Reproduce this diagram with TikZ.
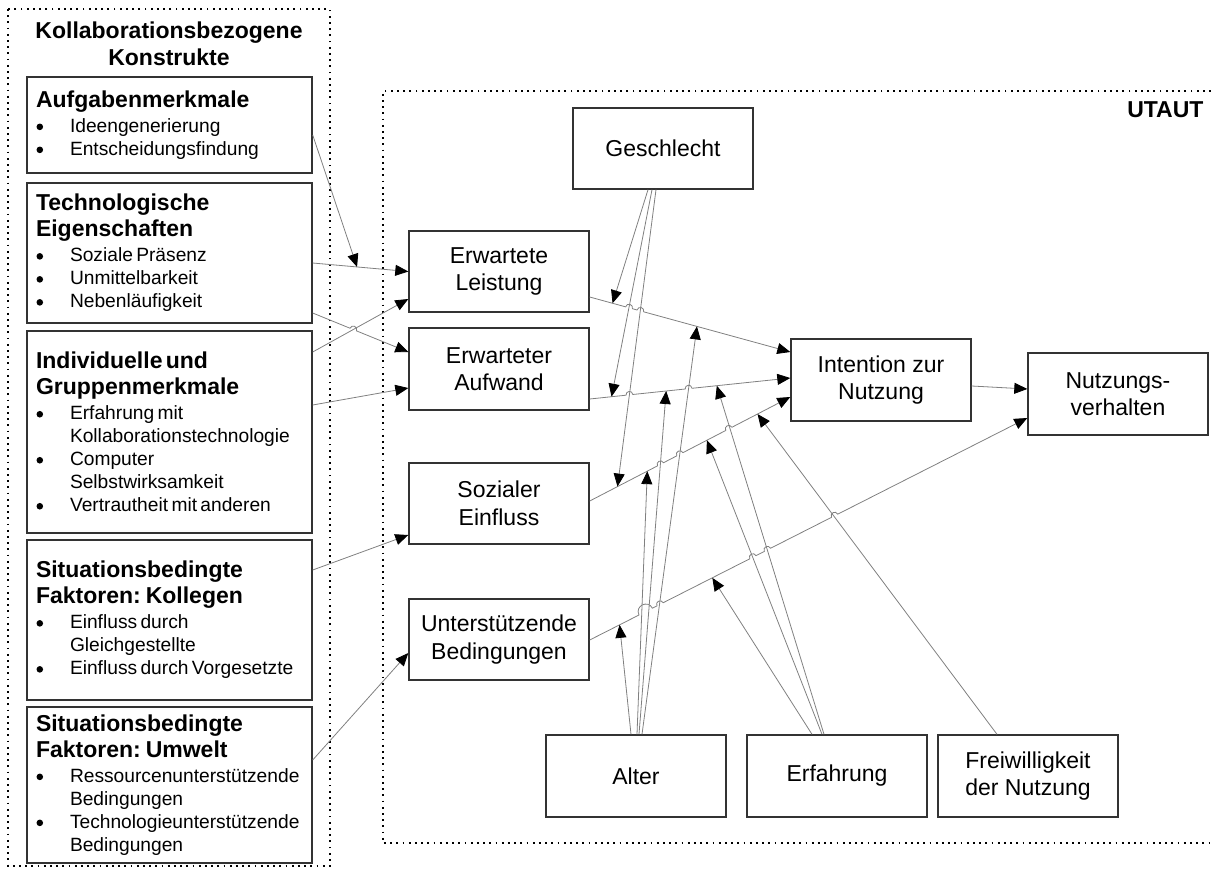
\documentclass[tikz,border=0pt]{standalone}
\usepackage{fontspec}
\setmainfont{Liberation Sans}
\usetikzlibrary{arrows.meta,calc}
\setlength{\parindent}{0pt}

% fonts and list lines of the construct boxes
\newcommand\headfont{\fontsize{23}{26}\selectfont\bfseries}
\newcommand\itemfont{\fontsize{19.2}{23}\selectfont}
\newcommand\bigdot{\tikz[baseline=-5.5pt]\fill[black] (0pt,0pt) circle[radius=3.3pt];}
\newcommand\bitem[1]{\makebox[34pt][l]{\hspace{0.5pt}\bigdot}#1}
\newcommand\bcont[1]{\hspace*{34pt}#1}

\begin{document}
\begin{tikzpicture}[x=1pt,y=-1pt,
  box/.style={draw=black!80, line width=1.4pt, rectangle, inner sep=0pt},
  utbox/.style={box, minimum width=180pt, minimum height=81pt, align=center,
                font=\fontsize{23}{27.5}\selectfont},
  leftbox/.style={box, text width=267pt, inner xsep=9pt, inner ysep=0pt, align=left},
  conn/.style={draw=black!50, line width=0.8pt},
  arr/.style={conn, -{Triangle[length=13pt,width=11pt,color=black]}},
  hopstep/.style={bend left=90, looseness=1.7},
  dotframe/.style={draw=black, line width=1.8pt, dash pattern=on 1.8pt off 4.4pt}
]
\useasboundingbox (0,0) rectangle (1211,871);

% ---------- collaboration constructs ----------
\draw[dotframe] (8,9) rectangle (330,866);
\node[align=center, font=\fontsize{23}{27.5}\selectfont\bfseries] (title) at (169,44)
  {Kollaborationsbezogene\\Konstrukte};

\node[leftbox, minimum height=96pt] (b1) at (169.5,125)
  {{\headfont Aufgabenmerkmale\par}\vspace{2pt}%
   {\itemfont\bitem{Ideengenerierung}\par\bitem{Entscheidungsfindung}\par}};
\node[leftbox, minimum height=140pt] (b2) at (169.5,253)
  {{\headfont Technologische\par Eigenschaften\par}\vspace{2pt}%
   {\itemfont\bitem{Soziale Präsenz}\par\bitem{Unmittelbarkeit}\par\bitem{Nebenläufigkeit}\par}};
\node[leftbox, minimum height=202pt] (b3) at (169.5,432)
  {{\headfont Individuelle und\par Gruppenmerkmale\par}\vspace{2pt}%
   {\itemfont\bitem{Erfahrung mit}\par\bcont{Kollaborationstechnologie}\par
    \bitem{Computer}\par\bcont{Selbstwirksamkeit}\par\bitem{Vertrautheit mit anderen}\par}};
\node[leftbox, minimum height=160pt] (b4) at (169.5,620)
  {{\headfont Situationsbedingte\par Faktoren: Kollegen\par}\vspace{2pt}%
   {\itemfont\bitem{Einfluss durch}\par\bcont{Gleichgestellte}\par\bitem{Einfluss durch Vorgesetzte}\par}};
\node[leftbox, minimum height=156pt] (b5) at (169.5,785)
  {{\headfont Situationsbedingte\par Faktoren: Umwelt\par}\vspace{2pt}%
   {\itemfont\bitem{Ressourcenunterstützende}\par\bcont{Bedingungen}\par
    \bitem{Technologieunterstützende}\par\bcont{Bedingungen}\par}};

% ---------- UTAUT ----------
\draw[dotframe] (1211,91) -- (383,91) -- (383,843) -- (1211,843);
\node[anchor=base east, font=\fontsize{23}{27}\selectfont\bfseries] (ut) at (1207,117) {UTAUT};

\node[utbox] (G)  at (663,148.5) {Geschlecht};
\node[utbox] (EL) at (499,271.5) {Erwartete\\Leistung};
\node[utbox, minimum height=82pt] (EA) at (499,369) {Erwarteter\\Aufwand};
\node[utbox] (SE) at (499,503.5) {Sozialer\\Einfluss};
\node[utbox] (UB) at (499,639.5) {Unterstützende\\Bedingungen};
\node[utbox, minimum height=82pt] (IN) at (881,380) {Intention zur\\Nutzung};
\node[utbox, minimum height=82pt] (NV) at (1118,394) {Nutzungs-\\verhalten};
\node[utbox, minimum height=82pt] (AL) at (636,776) {Alter};
\node[utbox, minimum height=82pt] (ER) at (837,776) {Erfahrung};
\node[utbox, minimum height=82pt] (FW) at (1028,776) {Freiwilligkeit\\der Nutzung};

% end points of the main paths
\coordinate (m1s) at ($(EL.east)+(0,25.5)$);
\coordinate (m1e) at ($(IN.west)+(0,-28)$);
\coordinate (m2s) at ($(EA.east)+(0,30)$);
\coordinate (m2e) at ($(IN.west)+(0,-2)$);
\coordinate (m3s) at ($(SE.east)+(0,-2.5)$);
\coordinate (m3e) at ($(IN.west)+(0,17)$);
\coordinate (m4s) at ($(UB.east)+(0,0.5)$);
\coordinate (m4e) at ($(NV.west)+(0,24)$);

% moderator targets and line jumps along the main paths
\path (m1s) -- (m1e)
  coordinate[pos=0.1139] (g1t) coordinate[pos=0.5347] (a4t)
  coordinate[pos=0.179] (m1h1a) coordinate[pos=0.213] (m1h1b)
  coordinate[pos=0.236] (m1h2a) coordinate[pos=0.269] (m1h2b);
\path (m2s) -- (m2e)
  coordinate[pos=0.1089] (g2t) coordinate[pos=0.3812] (a3t) coordinate[pos=0.6337] (e3t)
  coordinate[pos=0.181] (m2h1a) coordinate[pos=0.215] (m2h1b)
  coordinate[pos=0.476] (m2h2a) coordinate[pos=0.510] (m2h2b);
\path (m3s) -- (m3e)
  coordinate[pos=0.1386] (g3t) coordinate[pos=0.2871] (a2t)
  coordinate[pos=0.5842] (e2t) coordinate[pos=0.8366] (f1t)
  coordinate[pos=0.338] (m3h1a) coordinate[pos=0.368] (m3h1b)
  coordinate[pos=0.434] (m3h2a) coordinate[pos=0.465] (m3h2b)
  coordinate[pos=0.678] (m3h3a) coordinate[pos=0.709] (m3h3b);
\path (m4s) -- (m4e)
  coordinate[pos=0.0683] (a1t) coordinate[pos=0.2802] (e1t)
  coordinate[pos=0.1127] (m4h1a) coordinate[pos=0.1433] (m4h1b)
  coordinate[pos=0.1537] (m4h2a) coordinate[pos=0.1679] (m4h2b)
  coordinate[pos=0.3658] (m4h3a) coordinate[pos=0.3800] (m4h3b)
  coordinate[pos=0.3991] (m4h4a) coordinate[pos=0.4133] (m4h4b)
  coordinate[pos=0.5526] (m4h5a) coordinate[pos=0.5668] (m4h5b);

% main paths
\draw[arr] (m1s) -- (m1h1a) to[hopstep] (m1h1b) -- (m1h2a) to[hopstep] (m1h2b) -- (m1e);
\draw[arr] (m2s) -- (m2h1a) to[hopstep] (m2h1b) -- (m2h2a) to[hopstep] (m2h2b) -- (m2e);
\draw[arr] (m3s) -- (m3h1a) to[hopstep] (m3h1b) -- (m3h2a) to[hopstep] (m3h2b)
                  -- (m3h3a) to[hopstep] (m3h3b) -- (m3e);
\draw[arr] (m4s) -- (m4h1a) to[hopstep] (m4h1b) -- (m4h2a) to[hopstep] (m4h2b)
                  -- (m4h3a) to[hopstep] (m4h3b) -- (m4h4a) to[hopstep] (m4h4b)
                  -- (m4h5a) to[hopstep] (m4h5b) -- (m4e);
\draw[arr] ($(IN.east)+(0,6)$) -- ($(NV.west)+(0,-5)$);

% moderators
\draw[arr] ($(G.south)+(-15,0)$) -- (g1t);
\draw[arr] ($(G.south)+(-11,0)$) -- (g2t);
\draw[arr] ($(G.south)+(-7,0)$)  -- (g3t);
\draw[arr] ($(AL.north)+(-5,0)$) -- (a1t);
\draw[arr] ($(AL.north)+(1,0)$)  -- (a2t);
\draw[arr] ($(AL.north)+(3,0)$)  -- (a3t);
\draw[arr] ($(AL.north)+(6,0)$)  -- (a4t);
\draw[arr] ($(ER.north)+(-25,0)$) -- (e1t);
\draw[arr] ($(ER.north)+(-15,0)$) -- (e2t);
\draw[arr] ($(ER.north)+(-13,0)$) -- (e3t);
\draw[arr] ($(FW.north)+(-31,0)$) -- (f1t);

% collaboration constructs feeding the UTAUT determinants
\coordinate (c2s) at ($(b2.east)+(0,10)$);
\path (c2s) -- (EL.west) coordinate[pos=0.464] (c1t);
\draw[arr] (c2s) -- (EL.west);
\draw[arr] ($(b1.east)+(0,10)$) -- (c1t);
\coordinate (c3s) at ($(b2.east)+(0,60)$);
\coordinate (c3e) at ($(EA.west)+(0,-17)$);
\path (c3s) -- (c3e) coordinate[pos=0.3905] (c3ha) coordinate[pos=0.4575] (c3hb);
\draw[arr] (c3s) -- (c3ha) to[hopstep] (c3hb) -- (c3e);
\draw[arr] ($(b3.east)+(0,-80)$) -- ($(EL.west)+(0,27.5)$);
\draw[arr] ($(b3.east)+(0,-27)$) -- ($(EA.west)+(0,19)$);
\draw[arr] ($(b4.east)+(0,-50)$) -- ($(SE.west)+(0,31.5)$);
\draw[arr] ($(b5.east)+(0,-25)$) -- ($(UB.west)+(0,13.5)$);
\end{tikzpicture}
\end{document}
